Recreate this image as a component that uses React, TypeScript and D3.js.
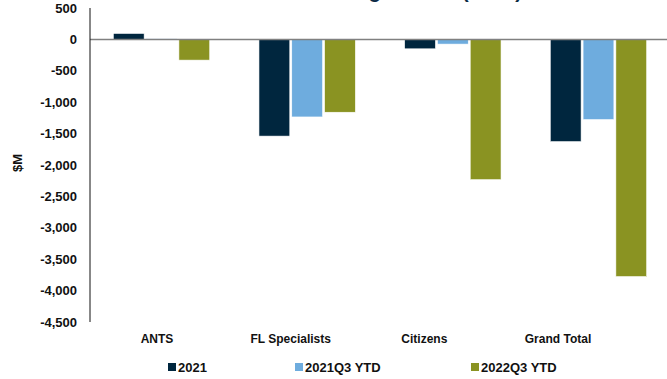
import React from "react";
import * as d3 from "d3";

const categories = ["ANTS", "FL Specialists", "Citizens", "Grand Total"];
const seriesNames = ["2021", "2021Q3 YTD", "2022Q3 YTD"];
const values2021 = [95, -1540, -150, -1628];
const values2021Q3 = [10, -1235, -75, -1277];
const values2022Q3 = [-330, -1160, -2234, -3777];
const yTicks = [500, 0, -500, -1000, -1500, -2000, -2500, -3000, -3500, -4000, -4500];
const colors = ["#00263E", "#6EACDE", "#8A9322"];

const W = 667;
const H = 379;

export default function App() {
  const series = [values2021, values2021Q3, values2022Q3];
  const y = d3.scaleLinear().domain([-4500, 500]).range([322, 8]);
  const x0 = d3.scaleBand<string>().domain(categories).range([90, 670]).paddingInner(0.338).paddingOuter(0.16);
  const x1 = d3.scaleBand<string>().domain(seriesNames).range([0, x0.bandwidth()]).paddingInner(0.06);
  const fmt = (v: number) => d3.format(",")(v).replace("\u2212", "-");
  const labelX = d3.scalePoint<string>().domain(categories).range([157, 558]);
  const legendX = [168, 295, 471];
  const font = "'Liberation Sans', Arial, sans-serif";

  return (
    <svg width={W} height={H} style={{ position: "absolute", left: 0, top: 0, background: "#fff" }} fontFamily={font}>
      <text x={522} y={-2} textAnchor="end" fontSize={20} fontWeight="bold" fill="#0B2A45">
        Net Underwriting Income (Loss)
      </text>
      {yTicks.map((t) => (
        <text key={t} x={77} y={y(t)} dy="0.35em" textAnchor="end" fontSize={13} fontWeight="bold" fill="#111">
          {fmt(t)}
        </text>
      ))}
      <text transform={`translate(22,${163}) rotate(-90)`} textAnchor="middle" fontSize={13} fontWeight="bold" fill="#111">
        $M
      </text>
      {categories.map((c, ci) =>
        series.map((s, si) => {
          const v = s[ci];
          const x = (x0(c) as number) + (x1(seriesNames[si]) as number);
          const top = y(Math.max(0, v));
          const bot = y(Math.min(0, v));
          return (
            <rect
              key={c + si}
              x={x}
              y={top}
              width={x1.bandwidth()}
              height={Math.max(0.5, bot - top)}
              fill={colors[si]}
              stroke="#ffffff"
              strokeWidth={0.6}
            />
          );
        })
      )}
      <line x1={90} x2={W} y1={y(0)} y2={y(0)} stroke="#808080" strokeWidth={1.5} />
      <line x1={90} x2={90} y1={y(500)} y2={y(-4500)} stroke="#111" strokeWidth={1} />
      {categories.map((c) => (
        <text key={c} x={labelX(c)} y={343} textAnchor="middle" fontSize={12} fontWeight="bold" fill="#111">
          {c}
        </text>
      ))}
      {seriesNames.map((n, i) => (
        <g key={n}>
          <rect x={legendX[i]} y={363} width={8} height={8} fill={colors[i]} />
          <text x={legendX[i] + 10} y={372} fontSize={13} fontWeight="bold" fill="#111">
            {n}
          </text>
        </g>
      ))}
    </svg>
  );
}
